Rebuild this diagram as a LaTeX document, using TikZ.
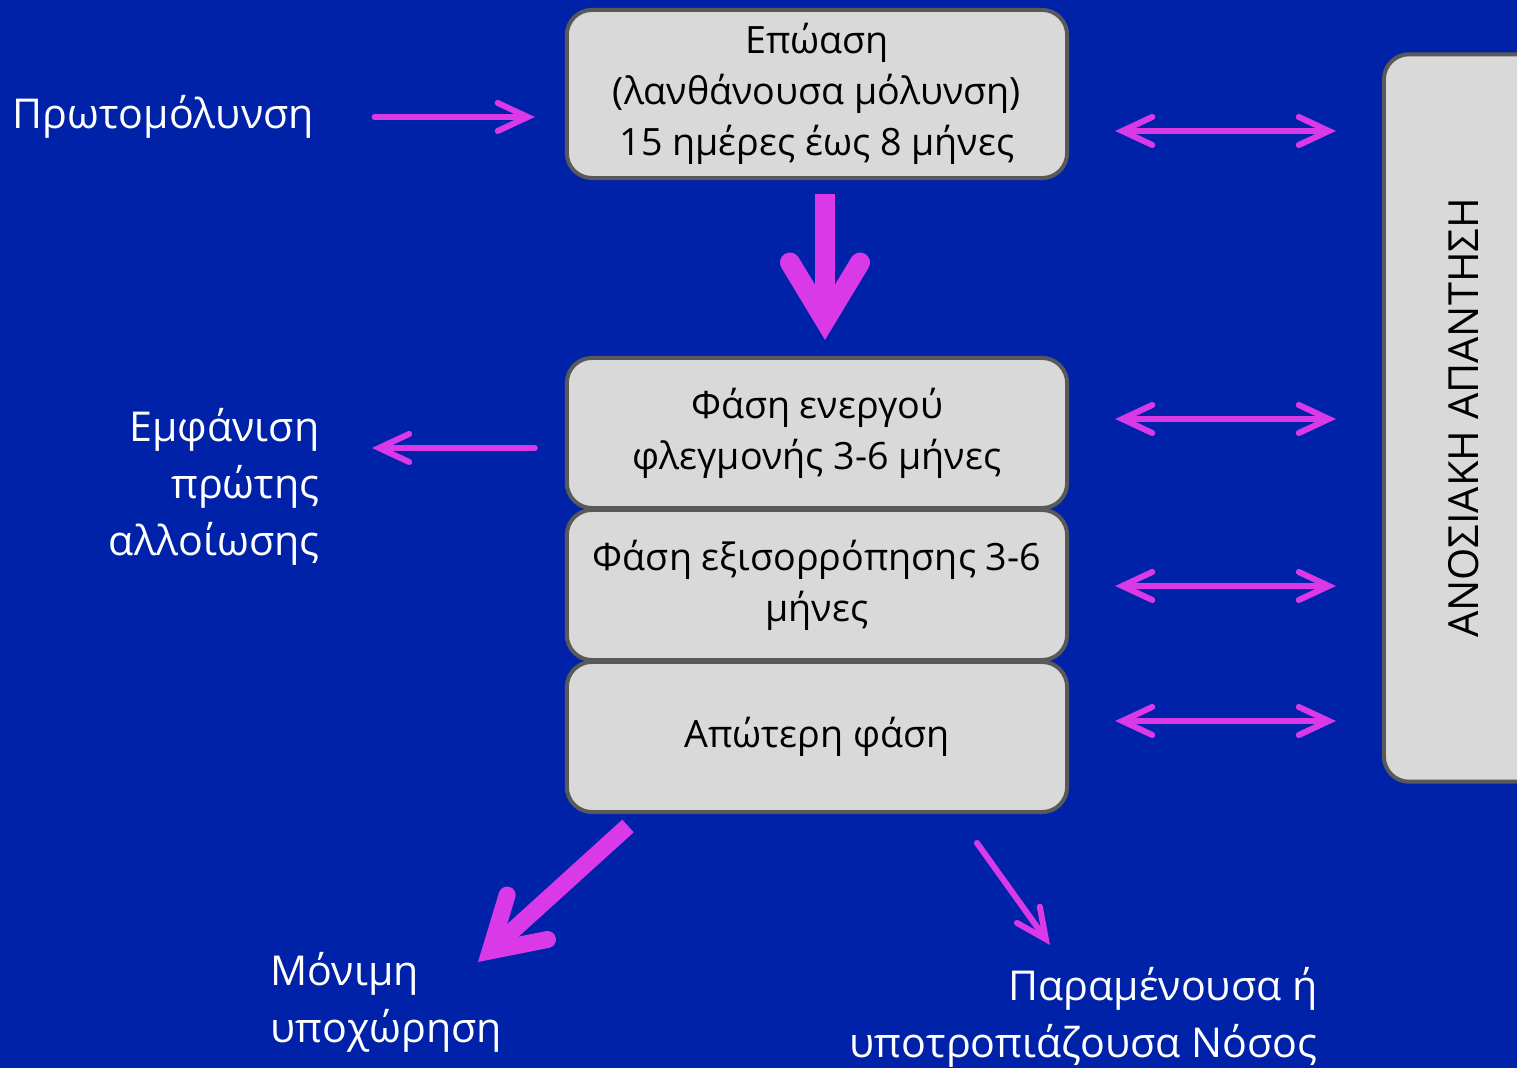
\documentclass[tikz,border=0pt]{standalone}
\usepackage{fontspec}
\setmainfont{Open Sans}
\usetikzlibrary{arrows.meta}
\definecolor{bgblue}{RGB}{0,34,168}
\definecolor{mag}{RGB}{218,57,232}
\definecolor{boxfill}{RGB}{217,217,217}
\definecolor{boxline}{RGB}{89,89,89}

\begin{document}
\begin{tikzpicture}[x=0.01cm,y=-0.01cm,
    phase/.style={draw=boxline,fill=boxfill,line width=0.04cm,rounded corners=0.25cm,
      minimum width=5cm,minimum height=1.5cm,align=center,
      font=\fontsize{10.7}{14.5}\selectfont},
    outtext/.style={text=white,inner sep=0pt,font=\fontsize{11.7}{16.2}\selectfont},
    arr/.style={draw=mag,line width=0.06cm,line cap=round,
      -{Straight Barb[length=0.3cm,width=0.28cm,line cap=round]}},
    dblarr/.style={draw=mag,line width=0.06cm,
      {Straight Barb[length=0.3cm,width=0.28cm,line cap=round]}-{Straight Barb[length=0.3cm,width=0.28cm,line cap=round]}},
    bigarr/.style={draw=mag,line width=0.2cm,
      -{Straight Barb[length=0.58cm,width=0.7cm,line cap=round,line join=miter]}},
    diagarr/.style={draw=mag,line width=0.17cm,
      -{Straight Barb[length=0.5cm,width=0.6cm,line cap=round,line join=miter]}}]
  \useasboundingbox (0,0) rectangle (1517,1068);
  \clip (0,0) rectangle (1517,1068);
  \fill[bgblue] (0,0) rectangle (1517,1068);

  % Phases
  \node[phase,minimum height=1.68cm] (epoasi) at (817,94)
    {Επώαση\\(λανθάνουσα μόλυνση)\\15 ημέρες έως 8 μήνες};
  \node[phase] (energos) at (817,433) {Φάση ενεργού\\φλεγμονής 3-6 μήνες};
  \node[phase] (exisorropisi) at (817,585) {Φάση εξισορρόπησης 3-6\\μήνες};
  \node[phase] (apoteri) at (817,737) {Απώτερη φάση};
  \node[phase,rotate=90,minimum width=7.27cm,minimum height=1.6cm,
    font=\fontsize{11.8}{16.2}\selectfont] (anosia) at (1464,418) {ΑΝΟΣΙΑΚΗ ΑΠΑΝΤΗΣΗ};

  % Outer texts
  \node[outtext,anchor=west] (protomol) at (12,117) {Πρωτομόλυνση};
  \node[outtext,anchor=east,align=right] (emfanisi) at (320,487)
    {Εμφάνιση\\πρώτης\\αλλοίωσης};
  \node[outtext,anchor=west,align=left] (monimi) at (270,1002) {Μόνιμη\\υποχώρηση};
  \node[outtext,anchor=east,align=right] (paramenousa) at (1318,1017)
    {Παραμένουσα ή\\υποτροπιάζουσα Νόσος};

  % Arrows
  \draw[arr,shorten <=0.6cm,shorten >=0.3cm] (protomol.east) -- (protomol.east -| epoasi.west);
  \path (epoasi.south) ++(8,0) coordinate (dtop);
  \draw[bigarr,shorten <=0.14cm,shorten >=0.16cm] (dtop) -- (dtop |- energos.north);
  \path (energos.west) ++(0,15) coordinate (lw);
  \draw[arr,shorten <=0.3cm,shorten >=0.52cm] (lw) -- (lw -| emfanisi.east);

  \path (epoasi.east) ++(0,37) coordinate (r1);
  \path (energos.east) ++(0,-14) coordinate (r2);
  \path (exisorropisi.east) ++(0,1) coordinate (r3);
  \path (apoteri.east) ++(0,-16) coordinate (r4);
  \foreach \r in {r1,r2,r3,r4}
    \draw[dblarr,shorten <=0.46cm,shorten >=0.46cm] (\r) -- (\r -| anosia.north);

  \coordinate (d1) at (628,826);
  \coordinate (d2) at (478,962);
  \draw[diagarr] (d1) -- (d2);
  \coordinate (d3) at (977,843);
  \coordinate (d4) at (1050,945);
  \draw[arr] (d3) -- (d4);
\end{tikzpicture}
\end{document}
